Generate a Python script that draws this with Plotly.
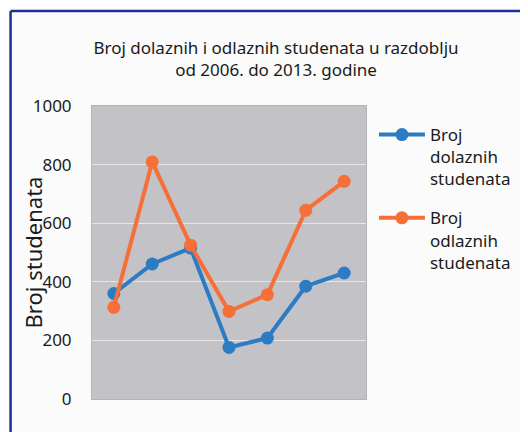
import plotly.graph_objects as go

# academic years (x labels are not shown in the original)
years = ["2006./07.", "2007./08.", "2008./09.", "2009./10.",
         "2010./11.", "2011./12.", "2012./13."]
dolazni = [360, 461, 515, 176, 208, 385, 430]
odlazni = [313, 809, 525, 299, 356, 644, 743]
y_ticks = [0, 200, 400, 600, 800, 1000]

BLUE = "#2b7cc4"
ORANGE = "#f66f38"
TEXT = "#1a1a1a"
FONT = "Noto Sans"

# the page body has an 8px margin, so the figure is shifted by 8px
OFF = 8
W, H = 528 - OFF, 432 - OFF
# plot area in window pixels
L, R, T, B = 92, 368, 106, 399


def px_x(p):
    return (p - L) / (R - L)


def px_y(p):
    return (B - p) / (B - T)


fig = go.Figure()
fig.add_trace(go.Scatter(
    x=years, y=dolazni, mode="lines+markers",
    name="Broj<br>dolaznih<br>studenata", legendgroup="d",
    line=dict(color=BLUE, width=4), marker=dict(size=13, color=BLUE),
))
fig.add_trace(go.Scatter(
    x=years, y=odlazni, mode="lines+markers",
    name="Broj<br>odlaznih<br>studenata", legendgroup="o",
    line=dict(color=ORANGE, width=4), marker=dict(size=13, color=ORANGE),
))

# scanned page frame
fig.add_shape(type="line", xref="paper", yref="paper",
              x0=px_x(10), x1=px_x(10), y0=px_y(11), y1=px_y(440),
              line=dict(color="#1f2f9a", width=2.5))
fig.add_shape(type="line", xref="paper", yref="paper",
              x0=px_x(10), x1=px_x(526), y0=px_y(11), y1=px_y(11),
              line=dict(color="#1f2f9a", width=2.5))
fig.add_shape(type="line", xref="paper", yref="paper",
              x0=px_x(524), x1=px_x(524), y0=px_y(11), y1=px_y(440),
              line=dict(color="#d0d0d4", width=1))

# y axis title, placed as in the scan (slightly overlapping the tick labels)
fig.add_annotation(
    text="Broj studenata", textangle=-90, showarrow=False,
    xref="paper", yref="paper", x=px_x(33), y=px_y(252),
    xanchor="center", yanchor="middle",
    font=dict(family=FONT, size=22, color=TEXT),
)

fig.update_layout(
    width=W, height=H,
    margin=dict(l=L - OFF, r=528 - R, t=T - OFF, b=432 - B),
    paper_bgcolor="#fbfbfb",
    plot_bgcolor="#c3c2c7",
    font=dict(family=FONT, color=TEXT, size=17),
    title=dict(
        text="Broj dolaznih i odlaznih studenata u razdoblju<br>od 2006. do 2013. godine",
        x=(276 - OFF) / W, xref="container", xanchor="center",
        y=1 - (54 - OFF) / H, yanchor="middle",
        font=dict(family=FONT, size=17, color=TEXT),
    ),
    showlegend=True,
    legend=dict(
        x=px_x(376), y=px_y(117), xanchor="left", yanchor="top",
        bgcolor="rgba(0,0,0,0)", valign="top",
        font=dict(family=FONT, size=17, color=TEXT),
        tracegroupgap=14, itemwidth=46,
    ),
)

fig.update_xaxes(showticklabels=False, showgrid=False, zeroline=False,
                 showline=True, linecolor="#b4b3b8", mirror=True,
                 automargin=False)
fig.update_yaxes(
    range=[0, 1000], tickvals=y_ticks, showgrid=True, gridcolor="#e6e6ea",
    gridwidth=1, zeroline=False, showline=True, linecolor="#b4b3b8", mirror=True,
    ticks="", ticklabelstandoff=16, automargin=False,
    tickfont=dict(family=FONT, size=17, color=TEXT),
)

fig.write_html("out.html")
